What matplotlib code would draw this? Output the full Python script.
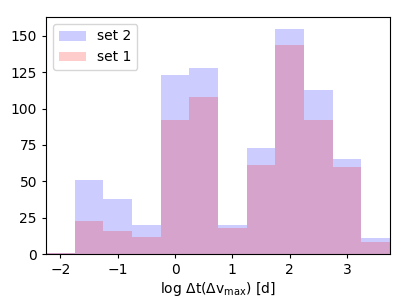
import matplotlib
matplotlib.use("Agg")
import matplotlib.pyplot as plt
import numpy as np

bin_edges = [-2.25, -1.75, -1.25, -0.75, -0.25, 0.25, 0.75, 1.25, 1.75, 2.25, 2.75, 3.25, 3.75]
set2_counts = [1, 51, 38, 20, 123, 128, 20, 73, 155, 113, 65, 11]
set1_counts = [1, 23, 16, 12, 92, 108, 18, 61, 144, 92, 60, 8]

edges = np.array(bin_edges)
centers = (edges[:-1] + edges[1:]) / 2

fig = plt.figure(figsize=(4.07, 3.05), dpi=100)
ax = fig.add_axes([46/407, 1 - 254/305, (390-46)/407, (254-17)/305])
ax.hist(centers, bins=edges, weights=set2_counts, color="blue", alpha=0.2, label="set 2")
ax.hist(centers, bins=edges, weights=set1_counts, color="red", alpha=0.2, label="set 1")
ax.set_xlim(-2.25, 3.75)
ax.set_ylim(0, 163)
ax.set_yticks([0, 25, 50, 75, 100, 125, 150])
ax.set_xticks([-2, -1, 0, 1, 2, 3])
ax.set_xticklabels(["\u22122", "\u22121", "0", "1", "2", "3"])
ax.tick_params(labelsize=10, length=3)
ax.set_xlabel(r"log $\Delta$t($\Delta$v$_{\rm max}$) [d]", fontsize=10, labelpad=2)
ax.legend(loc="upper left", fontsize=10)
fig.savefig("out.png", dpi=100)
